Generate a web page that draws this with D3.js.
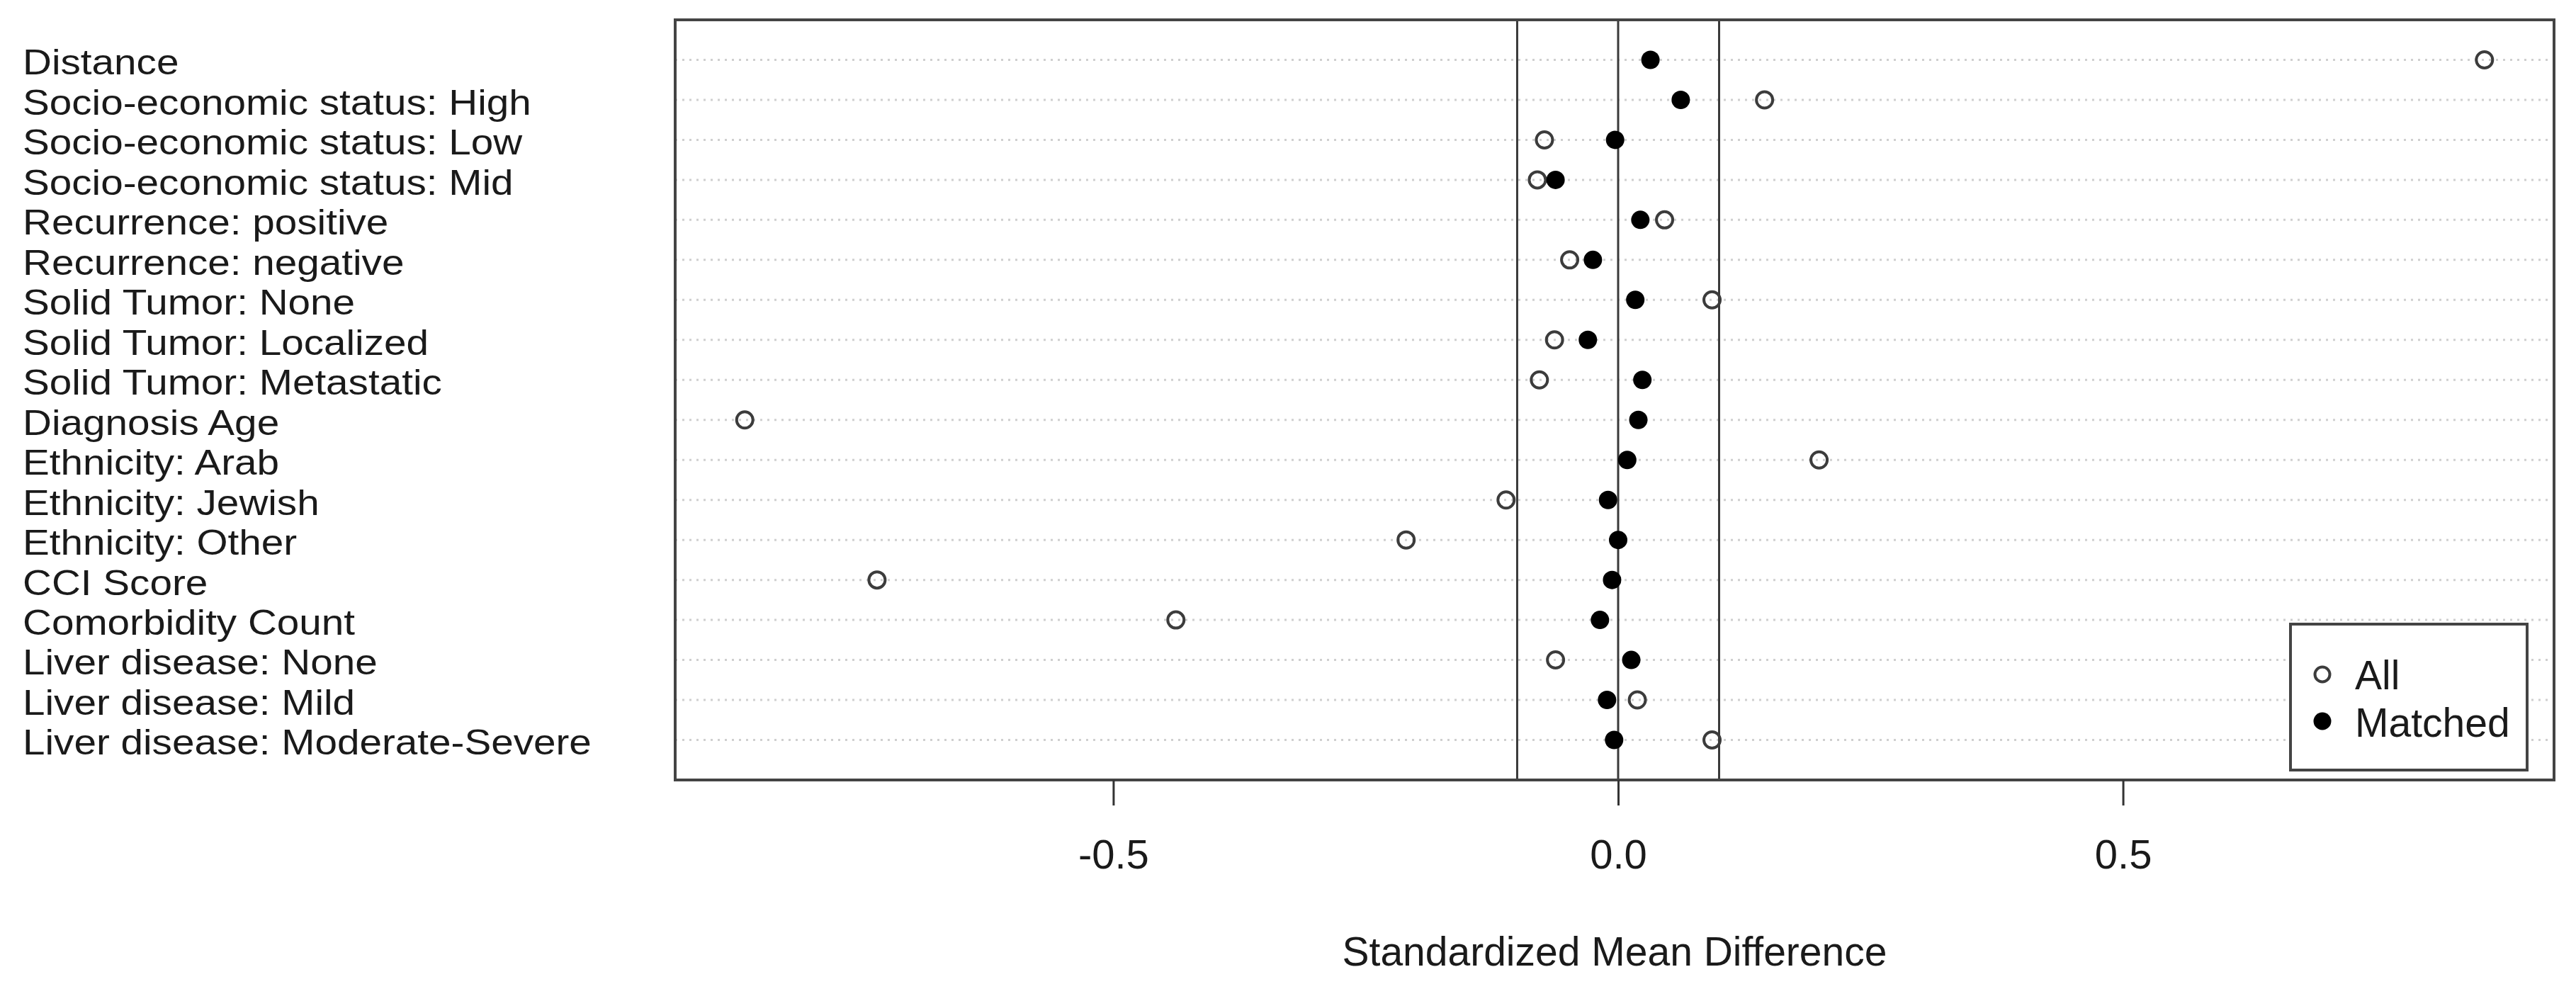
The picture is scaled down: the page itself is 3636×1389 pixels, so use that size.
<!DOCTYPE html>
<html>
<head>
<meta charset="utf-8">
<script src="https://cdn.jsdelivr.net/npm/d3@7"></script>
<style>
  html, body { margin: 0; padding: 0; background: #ffffff; }
  svg { display: block; }
</style>
</head>
<body>
<svg id="chart" width="3636" height="1389"></svg>
<script>
// ---- data ----
const categories = [
  "Distance",
  "Socio-economic status: High",
  "Socio-economic status: Low",
  "Socio-economic status: Mid",
  "Recurrence: positive",
  "Recurrence: negative",
  "Solid Tumor: None",
  "Solid Tumor: Localized",
  "Solid Tumor: Metastatic",
  "Diagnosis Age",
  "Ethnicity: Arab",
  "Ethnicity: Jewish",
  "Ethnicity: Other",
  "CCI Score",
  "Comorbidity Count",
  "Liver disease: None",
  "Liver disease: Mild",
  "Liver disease: Moderate-Severe"
];
const allValues = [0.858, 0.145, -0.073, -0.080, 0.046, -0.048, 0.093, -0.063, -0.078,
                   -0.865, 0.199, -0.111, -0.210, -0.734, -0.438, -0.062, 0.019, 0.093];
const matchedValues = [0.032, 0.062, -0.003, -0.062, 0.022, -0.025, 0.017, -0.030, 0.024,
                       0.020, 0.009, -0.010, 0.000, -0.006, -0.018, 0.013, -0.011, -0.004];
const referenceLines = [-0.1, 0, 0.1];
const tickValues = [-0.5, 0, 0.5];
const tickLabels = ["-0.5", "0.0", "0.5"];
const seriesNames = ["All", "Matched"];
const xTitle = "Standardized Mean Difference";

// ---- layout ----
const svg = d3.select("#chart");
const plot = { left: 953, right: 3605, top: 28, bottom: 1101 };
const n = categories.length;

const ext = d3.extent(allValues.concat(matchedValues));
const pad = (ext[1] - ext[0]) * 0.04;
const x = d3.scaleLinear().domain([ext[0] - pad, ext[1] + pad]).range([plot.left, plot.right]);
const y = d3.scaleLinear().domain([0, n + 1]).range([plot.bottom, plot.top]);
const rowY = i => y(n - i);

// dotted row guides
svg.append("g").selectAll("line").data(categories).join("line")
  .attr("x1", plot.left).attr("x2", plot.right)
  .attr("y1", (d, i) => rowY(i)).attr("y2", (d, i) => rowY(i))
  .attr("stroke", "#cfcfcf").attr("stroke-width", 3)
  .attr("stroke-dasharray", "3,7");

// reference vertical lines
svg.append("g").selectAll("line").data(referenceLines).join("line")
  .attr("x1", d => x(d)).attr("x2", d => x(d))
  .attr("y1", plot.top).attr("y2", plot.bottom)
  .attr("stroke", "#3a3a3a").attr("stroke-width", 3);

// open points (All)
svg.append("g").selectAll("circle").data(allValues).join("circle")
  .attr("cx", d => x(d)).attr("cy", (d, i) => rowY(i))
  .attr("r", 11.5).attr("fill", "none")
  .attr("stroke", "#3c3c3c").attr("stroke-width", 4);

// filled points (Matched)
svg.append("g").selectAll("circle").data(matchedValues).join("circle")
  .attr("cx", d => x(d)).attr("cy", (d, i) => rowY(i))
  .attr("r", 13).attr("fill", "#000");

// plot box
svg.append("rect")
  .attr("x", plot.left).attr("y", plot.top)
  .attr("width", plot.right - plot.left).attr("height", plot.bottom - plot.top)
  .attr("fill", "none").attr("stroke", "#444").attr("stroke-width", 4);

// x axis
const axis = d3.axisBottom(x).tickValues(tickValues)
  .tickFormat((d, i) => tickLabels[i]).tickSize(36).tickPadding(48);
const ag = svg.append("g").attr("transform", `translate(0,${plot.bottom})`).call(axis);
ag.select(".domain").remove();
ag.selectAll(".tick line").attr("stroke", "#333").attr("stroke-width", 3);
ag.selectAll(".tick text")
  .attr("font-family", "'Liberation Sans', Arial, sans-serif")
  .attr("font-size", 58).attr("fill", "#1a1a1a");

// axis title
svg.append("text")
  .attr("x", (plot.left + plot.right) / 2).attr("y", 1363)
  .attr("text-anchor", "middle")
  .attr("font-family", "'Liberation Sans', Arial, sans-serif")
  .attr("font-size", 57).attr("fill", "#1a1a1a")
  .text(xTitle);

// category labels (compact line box so adjacent rows do not collide)
const labelFs = 50;
const labelG = svg.append("g");
const lbl = labelG.selectAll("text").data(categories).join("text")
  .attr("x", 0)
  .attr("y", (d, i) => rowY(i) + 3 + labelFs * 0.716 / 2)
  .attr("font-family", "'Liberation Sans', Arial, sans-serif")
  .attr("font-size", labelFs).attr("fill", "#1a1a1a")
  .text(d => d);
let maxW = 0;
lbl.each(function () { maxW = Math.max(maxW, this.getComputedTextLength()); });
const sx = 803 / maxW;
labelG.attr("transform", `translate(32,0) scale(${sx},1)`);

// legend
const lg = svg.append("g");
lg.append("rect").attr("x", 3233).attr("y", 881).attr("width", 334).attr("height", 206)
  .attr("fill", "#fff").attr("stroke", "#444").attr("stroke-width", 4);
lg.append("circle").attr("cx", 3278).attr("cy", 952).attr("r", 10.5)
  .attr("fill", "none").attr("stroke", "#3c3c3c").attr("stroke-width", 4);
lg.append("circle").attr("cx", 3278).attr("cy", 1018).attr("r", 12.5).attr("fill", "#000");
lg.selectAll("text").data(seriesNames).join("text")
  .attr("x", 3324).attr("y", (d, i) => 973 + i * 67)
  .attr("font-family", "'Liberation Sans', Arial, sans-serif")
  .attr("font-size", 57).attr("fill", "#1a1a1a")
  .text(d => d);
</script>
</body>
</html>
